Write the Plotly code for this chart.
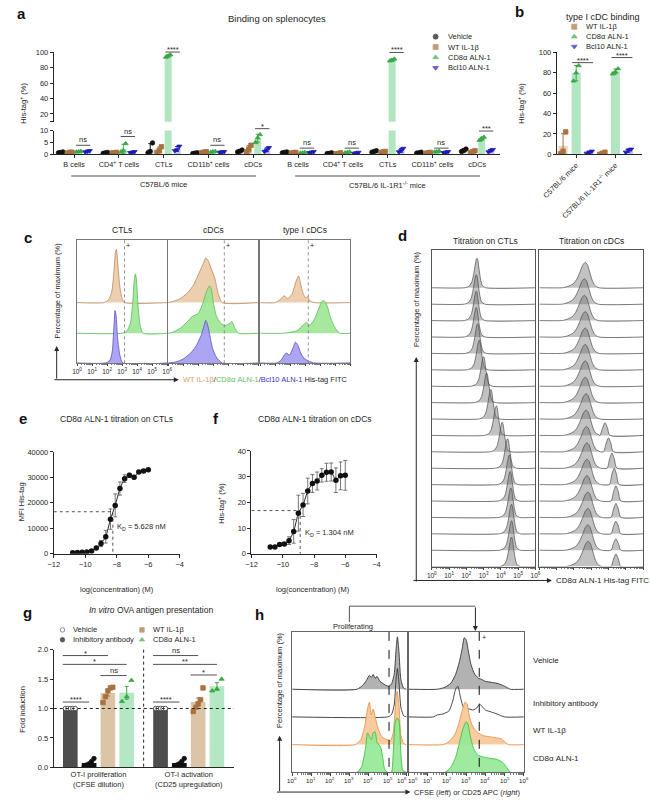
import math
import numpy as np
import plotly.graph_objects as go

W, H = 650, 802
FONT = "Liberation Sans, Arial, sans-serif"
INK = "#262626"

# ============================ DATA ============================
# ---- a: binding on splenocytes (His-tag+ %, 3 mice per bar) ----
a_groups = ["B cells", "CD4<sup>+</sup> T cells", "CTLs", "CD11b<sup>+</sup> cells", "cDCs",
            "B cells", "CD4<sup>+</sup> T cells", "CTLs", "CD11b<sup>+</sup> cells", "cDCs"]
a_strains = ["C57BL/6 mice", "C57BL/6 IL-1R1<sup>-/-</sup> mice"]
a_series = ["Vehicle", "WT IL-1β", "CD8α ALN-1", "Bcl10 ALN-1"]
a_vehicle = [[0.6, 0.8, 1.0], [0.4, 0.6, 0.8], [0.6, 1.2, 4.8], [0.3, 0.5, 0.6], [1.0, 1.3, 1.8],
             [0.6, 0.8, 1.0], [0.3, 0.4, 0.6], [0.9, 1.2, 1.5], [0.5, 0.6, 0.9], [1.2, 1.6, 2.2]]
a_wt = [[0.5, 0.8, 0.9], [0.5, 0.6, 0.8], [0.8, 1.6, 3.2], [0.7, 0.9, 1.1], [1.0, 2.2, 3.8],
        [0.5, 0.7, 0.8], [0.2, 0.3, 0.6], [0.8, 1.0, 1.2], [0.4, 0.6, 0.8], [0.8, 1.1, 1.5]]
a_cd8 = [[1.0, 1.1, 1.3], [1.0, 1.5, 4.5], [94.0, 95.5, 97.0], [0.9, 1.1, 1.2], [5.0, 7.0, 8.3],
         [0.5, 0.6, 0.8], [0.6, 0.8, 1.0], [89.0, 90.0, 91.5], [1.0, 1.1, 1.3], [5.9, 6.6, 7.2]]
a_bcl10 = [[1.0, 1.3, 1.5], [0.7, 0.9, 1.1], [1.5, 1.9, 3.4], [0.8, 1.0, 1.1], [1.2, 1.8, 2.8],
           [0.7, 0.9, 1.1], [0.4, 0.6, 0.8], [1.0, 1.5, 2.5], [0.7, 0.9, 1.1], [1.0, 1.6, 2.0]]
a_sig = ["ns", "ns", "****", "ns", "*", "ns", "ns", "****", "ns", "***"]
a_sig_level = [3.8, 7.5, 100.5, 3.8, 10.8, 2.6, 2.6, 100.0, 2.6, 9.8]

# ---- b: type I cDC binding ----
b_groups = ["C57BL/6 mice", "C57BL/6 IL-1R1<sup>-/-</sup> mice"]
b_series = ["WT IL-1β", "CD8α ALN-1", "Bcl10 ALN-1"]
b_wt = [[0.5, 3.0, 22.0], [0.0, 1.0, 2.0]]
b_cd8 = [[72.0, 80.0, 87.0], [79.0, 81.0, 84.0]]
b_bcl10 = [[1.0, 2.0, 3.0], [2.0, 4.0, 5.0]]
b_sig = ["****", "****"]
b_sig_level = [90, 95]

# ---- c: flow histograms (log10 fluorescence, height) ----
c_titles = ["CTLs", "cDCs", "type I cDCs"]
c_gate = [3.16, 3.74, 3.2]
c_ctl_wt = ([0, 1.8, 2.1, 2.3, 2.45, 2.55, 2.62, 2.7, 2.85, 3.0, 3.2, 6],
            [0, 0, 3, 10, 30, 50, 54, 42, 16, 4, 0, 0])
c_ctl_cd8 = ([0, 3.0, 3.3, 3.55, 3.7, 3.8, 3.88, 3.95, 4.05, 4.2, 4.4, 6],
             [0, 0, 2, 10, 30, 52, 60, 55, 30, 8, 0, 0])
c_ctl_bcl10 = ([0, 1.9, 2.2, 2.35, 2.45, 2.53, 2.6, 2.7, 2.85, 3.05, 6],
               [0, 0, 3, 12, 35, 53, 48, 25, 8, 0, 0])
c_cdc_wt = ([0, 0.3, 0.8, 1.3, 1.7, 2.0, 2.3, 2.5, 2.65, 2.85, 3.1, 3.35, 3.6, 6],
            [0, 1, 4, 10, 18, 28, 38, 45, 43, 35, 25, 8, 0, 0])
c_cdc_cd8 = ([0, 0.3, 0.8, 1.3, 1.6, 2.0, 2.3, 2.55, 2.75, 2.85, 3.0, 3.2, 3.5, 3.8, 4.1, 4.25, 4.45, 4.7, 6],
             [0, 1, 5, 12, 17, 20, 30, 42, 48, 46, 32, 18, 10, 8, 10, 12, 5, 0, 0])
c_cdc_bcl10 = ([0, 0.5, 1.0, 1.5, 1.9, 2.2, 2.4, 2.5, 2.6, 2.75, 2.95, 3.2, 3.6, 6],
               [0, 1, 4, 10, 18, 28, 38, 43, 40, 30, 15, 6, 0, 0])
c_t1_wt = ([0, 1.0, 1.4, 1.6, 1.8, 2.1, 2.35, 2.55, 2.65, 2.8, 3.0, 3.15, 3.3, 3.6, 6],
           [0, 0, 4, 7, 4, 8, 20, 27, 22, 12, 5, 6, 2, 0, 0])
c_t1_cd8 = ([0, 1.5, 2.0, 2.5, 2.9, 3.1, 3.3, 3.6, 3.9, 4.1, 4.25, 4.45, 4.7, 5.0, 5.3, 6],
            [0, 0, 1, 3, 9, 11, 8, 14, 25, 32, 33, 28, 15, 5, 0, 0])
c_t1_bcl10 = ([0, 1.1, 1.4, 1.6, 1.75, 1.95, 2.15, 2.35, 2.5, 2.7, 2.9, 3.2, 3.6, 6],
              [0, 0, 3, 8, 10, 8, 14, 21, 18, 10, 5, 2, 0, 0])

# ---- d: titration histograms (peak position per concentration row) ----
d_titles = ["Titration on CTLs", "Titration on cDCs"]
d_ctl_peak = [2.62, 2.58, 2.58, 2.58, 2.66, 2.75, 3.0, 3.18, 3.42, 3.74, 4.08, 4.39, 4.49, 4.54, 4.58, 4.62, 4.62, 4.62]
d_cdc_peak = [2.65, 2.6, 2.6, 2.65, 2.65, 2.65, 2.65, 2.65, 2.7, 2.7, 2.72, 2.75, 2.75, 2.75, 2.8, 2.8, 2.8, 2.82]
d_cdc_bump_pos = [0, 0, 0, 0, 0, 0, 0, 0, 0, 3.8, 4.0, 4.2, 4.33, 4.43, 4.43, 4.43, 4.43, 4.43]
d_cdc_bump_h = [0, 0, 0, 0, 0, 0, 0, 0, 0, 0.5, 0.55, 0.6, 0.65, 0.6, 0.55, 0.5, 0.45, 0.5]
d_ctl_shape_dx = [-0.7, -0.45, -0.3, -0.2, -0.1, -0.04, 0, 0.05, 0.1, 0.2, 0.3, 0.5]
d_ctl_shape_h = [0, 0.06, 0.2, 0.45, 0.8, 0.97, 1.0, 0.92, 0.7, 0.3, 0.08, 0]
d_cdc_shape_dx = [-1.3, -1.0, -0.7, -0.5, -0.3, -0.15, 0, 0.12, 0.25, 0.4, 0.55, 0.8]
d_cdc_shape_h = [0, 0.05, 0.15, 0.32, 0.62, 0.88, 1.0, 0.92, 0.65, 0.3, 0.1, 0]
d_bump_dx = [-0.28, -0.14, 0, 0.14, 0.28]
d_bump_h = [0, 0.6, 1.0, 0.6, 0]

# ---- e / f: titration curves ----
ef_logc = [-10.8, -10.5, -10.2, -9.9, -9.6, -9.3, -9.0, -8.7, -8.4, -8.1, -7.8, -7.5, -7.2, -6.9, -6.6, -6.3, -6.0]
e_mfi = [400, 450, 550, 700, 1100, 2300, 4000, 6700, 13600, 19000, 25600, 29500, 30800, 30100, 32100, 32500, 33000]
e_err = [150, 150, 150, 200, 300, 600, 1200, 2500, 4000, 4500, 2600, 1500, 800, 700, 500, 500, 500]
e_kd_nM = 5.628
e_half = 16500
f_pct = [2.6, 2.6, 3.6, 3.8, 5.1, 8.7, 15.8, 19.0, 24.4, 27.3, 28.3, 30.5, 31.7, 31.8, 28.6, 30.3, 30.5]
f_err = [0.4, 0.4, 0.4, 0.4, 1.5, 4.6, 7.0, 4.5, 5.0, 3.5, 3.5, 2.6, 3.5, 3.5, 4.8, 5.4, 5.8]
f_kd_nM = 1.304
f_half = 16.8

# ---- g: OVA antigen presentation (fold induction) ----
g_groups = ["OT-I proliferation<br>(CFSE dilution)", "OT-I activation<br>(CD25 upregulation)"]
g_series = ["Vehicle", "Inhibitory antibody", "WT IL-1β", "CD8α ALN-1"]
g_vehicle = [[1.0, 1.0, 1.0, 1.0, 1.0], [1.0, 1.0, 1.0, 1.0, 1.0]]
g_inhib = [[0.02, 0.04, 0.06, 0.1, 0.15], [0.02, 0.04, 0.06, 0.1, 0.15]]
g_wt = [[1.1, 1.2, 1.3, 1.35, 1.36], [0.95, 1.02, 1.08, 1.15, 1.35]]
g_cd8 = [[1.12, 1.2, 1.48], [1.3, 1.33, 1.5]]
g_sig_pairs = [(0, 1), (0, 2), (0, 3), (2, 3)]
g_sig = [["****", "*", "*", "ns"], ["****", "ns", "**", "*"]]
g_sig_level = [[1.11, 1.9, 1.75, 1.56], [1.11, 1.9, 1.75, 1.57]]

# ---- h: CFSE / CD25 histograms ----
h_rows = ["Vehicle", "Inhibitory antibody", "WT IL-1β", "CD8α ALN-1"]
h_gate = [5.08, 3.68]
h_cfse_vehicle = ([0, 3.4, 3.7, 3.9, 4.05, 4.15, 4.25, 4.35, 4.45, 4.6, 4.75, 4.9, 5.05, 5.2, 5.35, 5.45, 5.52, 5.6, 5.7, 5.85, 6],
                  [0, 0, 4, 9, 14, 12, 15, 11, 13, 8, 6, 4, 3, 5, 15, 40, 53, 38, 10, 1, 0])
h_cfse_inhib = ([0, 5.0, 5.2, 5.35, 5.45, 5.52, 5.6, 5.7, 5.85, 6],
                [0, 0, 2, 12, 38, 49, 35, 10, 1, 0])
h_cfse_wt = ([0, 3.3, 3.6, 3.8, 3.95, 4.05, 4.15, 4.25, 4.35, 4.45, 4.55, 4.7, 4.85, 5.0, 5.15, 5.3, 5.4, 5.5, 5.6, 5.7, 5.85, 6],
             [0, 0, 5, 18, 36, 43, 30, 36, 28, 20, 14, 8, 6, 5, 4, 12, 35, 54, 40, 10, 1, 0])
h_cfse_cd8 = ([0, 3.4, 3.65, 3.85, 3.95, 4.05, 4.15, 4.25, 4.35, 4.45, 4.55, 4.65, 4.75, 4.85, 5.0, 5.2, 5.3, 5.4, 5.5, 5.6, 5.7, 5.8, 6],
              [0, 0, 6, 25, 40, 36, 33, 40, 41, 30, 28, 25, 15, 3, 0, 0, 20, 50, 55, 52, 20, 2, 0])
h_cd25_vehicle = ([0, 1.5, 1.9, 2.2, 2.45, 2.65, 2.8, 2.9, 3.0, 3.1, 3.25, 3.45, 3.65, 3.8, 4.0, 4.3, 4.6, 4.9, 5.1, 5.3, 6],
                  [0, 0, 2, 6, 15, 28, 42, 52, 50, 40, 25, 15, 11, 10, 8, 7, 6, 4, 2, 0, 0])
h_cd25_inhib = ([0, 1.3, 1.5, 1.8, 2.1, 2.3, 2.45, 2.57, 2.7, 2.85, 3.0, 3.15, 3.35, 3.55, 3.7, 3.85, 4.0, 4.3, 4.6, 5.0, 6],
                [0, 0, 2, 3, 6, 16, 28, 31, 20, 10, 8, 8, 7, 9, 13, 10, 7, 5, 3, 0, 0])
h_cd25_wt = ([0, 1.8, 2.1, 2.4, 2.6, 2.8, 2.95, 3.05, 3.15, 3.3, 3.5, 3.7, 3.9, 4.2, 4.5, 4.8, 5.0, 5.2, 6],
             [0, 0, 3, 10, 20, 35, 43, 41, 30, 20, 14, 11, 9, 8, 7, 6, 3, 0, 0])
h_cd25_cd8 = ([0, 1.9, 2.2, 2.45, 2.65, 2.85, 3.0, 3.1, 3.2, 3.35, 3.5, 3.65, 3.8, 4.0, 4.3, 4.6, 4.9, 5.1, 5.3, 6],
              [0, 0, 5, 15, 30, 45, 51, 48, 38, 26, 20, 17, 16, 15, 14, 13, 10, 5, 0, 0])

# ============================ HELPERS ============================
layout = dict(width=W, height=H, autosize=False, margin=dict(l=0, r=0, t=0, b=0),
              paper_bgcolor="white", plot_bgcolor="rgba(0,0,0,0)", showlegend=False,
              barmode="overlay", font=dict(family=FONT, size=8, color=INK))
traces, shapes, annotations, overlay_pts = [], [], [], []
axinfo = {}
counter = [0]


def base_axis(**kw):
    d = dict(showgrid=False, zeroline=False, showline=True, linecolor=INK, linewidth=1,
             ticks="outside", ticklen=3, tickwidth=1, tickcolor=INK,
             tickfont=dict(size=7.5, color=INK, family=FONT), fixedrange=True)
    d.update(kw)
    return d


def make_axes(px0, px1, py0, py1, xr, yr, xkw=None, ykw=None):
    counter[0] += 1
    n = counter[0]
    s = "" if n == 1 else str(n)
    layout["xaxis" + s] = base_axis(domain=[px0 / W, px1 / W], range=xr, anchor="y" + s, **(xkw or {}))
    layout["yaxis" + s] = base_axis(domain=[1 - py1 / H, 1 - py0 / H], range=yr, anchor="x" + s, **(ykw or {}))
    axinfo["x" + s] = (px0, px1, xr)
    axinfo["y" + s] = (py0, py1, yr)
    return "x" + s, "y" + s


def extra_y(xname, py0, py1, yr, ykw=None):
    counter[0] += 1
    s = str(counter[0])
    layout["yaxis" + s] = base_axis(domain=[1 - py1 / H, 1 - py0 / H], range=yr, anchor=xname, **(ykw or {}))
    axinfo["y" + s] = (py0, py1, yr)
    return "y" + s


def X(ax, v):
    p0, p1, r = axinfo[ax]
    return p0 + (v - r[0]) / (r[1] - r[0]) * (p1 - p0)


def Y(ax, v):
    p0, p1, r = axinfo[ax]
    return p1 - (v - r[0]) / (r[1] - r[0]) * (p1 - p0)


def line(x0, y0, x1, y1, color=INK, width=1, dash="solid"):
    shapes.append(dict(type="line", xref="paper", yref="paper", x0=x0 / W, y0=1 - y0 / H,
                       x1=x1 / W, y1=1 - y1 / H, line=dict(color=color, width=width, dash=dash)))


def text(x, y, s, size=8, color=INK, xanchor="center", yanchor="middle", angle=0):
    annotations.append(dict(x=x / W, y=1 - y / H, xref="paper", yref="paper", text=s, showarrow=False,
                            font=dict(size=size, color=color, family=FONT), xanchor=xanchor,
                            yanchor=yanchor, textangle=angle, borderpad=0))


def arrow(x0, y0, x1, y1):
    annotations.append(dict(x=x1 / W, y=1 - y1 / H, xref="paper", yref="paper", ax=x0 - x1, ay=y0 - y1,
                            axref="pixel", ayref="pixel", text="", showarrow=True, arrowhead=2,
                            arrowsize=1, arrowwidth=1, arrowcolor=INK, standoff=0))


def panel_letter(x, y, s):
    text(x, y, "<b>" + s + "</b>", size=15, color="#111")


def sig_text(xc, py, s):
    if s == "ns":
        text(xc, py - 5.5, s, size=7.5)
    else:
        text(xc, py - 2.5, s, size=7.5)


def legend_marker(x, y, symbol, color, fill=None, size=5):
    overlay_pts.append((x, y, symbol, color, fill or color, size))


JIT = {3: [-0.25, 0, 0.25], 5: [-0.26, -0.13, 0, 0.13, 0.26]}


def add_points(xax, yax, centers, values, color, symbol, size=4.5, fill=None, jit_scale=1.0):
    xs, ys = [], []
    for c, vals in zip(centers, values):
        for o, v in zip(JIT[len(vals)], vals):
            xs.append(c + o * jit_scale)
            ys.append(v)
    if not xs:
        return
    traces.append(go.Scatter(x=xs, y=ys, xaxis=xax, yaxis=yax, mode="markers", hoverinfo="skip",
                             marker=dict(symbol=symbol, size=size, color=fill or color,
                                         line=dict(color=color, width=0.8))))


def add_err(xax, yax, centers, values, color, kind="sd"):
    if not centers:
        return
    m = [float(np.mean(v)) for v in values]
    e = []
    for v in values:
        sd = float(np.std(v, ddof=1))
        e.append(sd / math.sqrt(len(v)) if kind == "sem" else sd)
    traces.append(go.Scatter(x=centers, y=m, xaxis=xax, yaxis=yax, mode="markers", hoverinfo="skip",
                             marker=dict(size=1, color="rgba(0,0,0,0)"),
                             error_y=dict(type="data", array=e, color=color, thickness=1, width=2)))


def hist(xax, yax, curve, base, fillcol, linecol, fill=True, lw=0.8):
    xs, hs = curve
    traces.append(go.Scatter(x=list(xs), y=[base + h for h in hs], xaxis=xax, yaxis=yax, mode="lines",
                             hoverinfo="skip", line=dict(color=linecol, width=lw, shape="spline", smoothing=0.6),
                             fill="toself" if fill else None, fillcolor=fillcol if fill else None))


MINOR = [k + math.log10(m) for k in range(6) for m in range(2, 10)]
DECADES = ["10<sup>%d</sup>" % k for k in range(7)]


def hist_axes(px0, px1, py0, py1, yr, labels, line_col="#777777"):
    xkw = dict(tickvals=list(range(7)), ticktext=DECADES,
               showticklabels=labels, mirror=True, linecolor=line_col, ticklen=2.5, tickcolor="#444",
               tickfont=dict(size=6.5, color=INK, family=FONT),
               minor=dict(tickvals=MINOR, ticklen=1.5, tickcolor="#444", ticks="outside", tickwidth=0.7))
    ykw = dict(showticklabels=False, ticks="", mirror=True, linecolor=line_col)
    return make_axes(px0, px1, py0, py1, [0, 6], yr, xkw, ykw)


# ============================ PANEL a ============================
xa, ya = make_axes(40, 500, 128, 152, [-2.27, 47.5], [0, 10],
                   xkw=dict(tickvals=[5 * i for i in range(10)], ticktext=a_groups, tickfont=dict(size=7.3, color=INK)),
                   ykw=dict(tickvals=[0, 5, 10]))
ya2 = extra_y(xa, 49, 119, [10, 100], dict(tickvals=[10, 20, 40, 60, 80, 100],
                                            ticktext=["", "20", "40", "60", "80", "100"]))
a_data = [a_vehicle, a_wt, a_cd8, a_bcl10]
a_col = ["#111111", "#a9713f", "#3aa845", "#1d1db5"]
a_barcol = ["#d9d9d9", "#ead4bd", "#b2e6c1", "#c4c4f3"]
a_sym = ["circle", "square", "triangle-up", "triangle-down"]
for s in range(4):
    centers = [5 * g - 1.5 + s for g in range(10)]
    means = [float(np.mean(v)) for v in a_data[s]]
    for yy in (ya, ya2):
        traces.append(go.Bar(x=centers, y=means, width=0.78, xaxis=xa, yaxis=yy, hoverinfo="skip",
                             marker=dict(color=a_barcol[s], line=dict(width=0))))
for s in range(4):
    centers = [5 * g - 1.5 + s for g in range(10)]
    low = [i for i in range(10) if np.mean(a_data[s][i]) < 10]
    high = [i for i in range(10) if np.mean(a_data[s][i]) >= 10]
    for yy, idx in ((ya, low), (ya2, high)):
        cc = [centers[i] for i in idx]
        vv = [a_data[s][i] for i in idx]
        add_err(xa, yy, cc, vv, a_col[s], "sd")
        add_points(xa, yy, cc, vv, a_col[s], a_sym[s], size=4.5)
for g in range(10):
    lvl = a_sig_level[g]
    yax = ya2 if lvl > 50 else ya
    py = Y(yax, lvl)
    x0, x1 = X(xa, 5 * g + 0.2), X(xa, 5 * g + 1.8)
    line(x0, py, x1, py, width=0.8)
    sig_text((x0 + x1) / 2, py, a_sig[g])
for k in range(2):
    x0, x1 = X(xa, 25 * k), X(xa, 25 * k + 20)
    line(x0 - 3, 174, x1 + 3, 174, color="#8a8a8a", width=1.5)
    text((x0 + x1) / 2, 183, a_strains[k], size=7.5)
panel_letter(7, 10, "a")
text(270, 15, "Binding on splenocytes", size=9.5)
text(8, 100, "His-tag<sup>+</sup> (%)", size=7.5, angle=-90)
for s in range(4):
    yy = [33, 43.5, 54, 64.5][s]
    legend_marker(434, yy, a_sym[s], a_col[s])
    text(446, yy, a_series[s], size=7.5, xanchor="left")

# ============================ PANEL b ============================
xb, yb = make_axes(559, 647, 49, 152, [-1.48, 5.04], [0, 100],
                   xkw=dict(tickvals=[0, 3], ticktext=b_groups, tickangle=-45, tickfont=dict(size=7.3, color=INK)),
                   ykw=dict(tickvals=[0, 20, 40, 60, 80, 100]))
b_data = [b_wt, b_cd8, b_bcl10]
b_col = a_col[1:]
b_barcol = a_barcol[1:]
b_sym = a_sym[1:]
for s in range(3):
    centers = [3 * g - 1 + s for g in range(2)]
    means = [float(np.mean(v)) for v in b_data[s]]
    traces.append(go.Bar(x=centers, y=means, width=0.7, xaxis=xb, yaxis=yb, hoverinfo="skip",
                         marker=dict(color=b_barcol[s], line=dict(width=0))))
for s in range(3):
    centers = [3 * g - 1 + s for g in range(2)]
    add_err(xb, yb, centers, b_data[s], b_col[s], "sd")
    add_points(xb, yb, centers, b_data[s], b_col[s], b_sym[s], size=4.5, jit_scale=0.8)
for g in range(2):
    py = Y(yb, b_sig_level[g])
    x0, x1 = X(xb, 3 * g - 0.3), X(xb, 3 * g + 1.3)
    line(x0, py, x1, py, width=0.8)
    sig_text((x0 + x1) / 2, py, b_sig[g])
panel_letter(520, 8, "b")
text(607, 13, "type I cDC binding", size=9)
text(522, 100, "His-tag<sup>+</sup> (%)", size=7.5, angle=-90)
for s in range(3):
    yy = [23, 33, 43][s]
    legend_marker(577, yy, b_sym[s], b_col[s])
    text(588, yy, b_series[s], size=7.5, xanchor="left")

# ============================ PANEL c ============================
c_boxes = [(64, 157), (158, 251), (253, 346)]
c_curves = [(c_ctl_wt, c_ctl_cd8, c_ctl_bcl10), (c_cdc_wt, c_cdc_cd8, c_cdc_bcl10), (c_t1_wt, c_t1_cd8, c_t1_bcl10)]
c_base = [61, 30, 0]
c_fill = ["rgba(236,204,172,0.95)", "rgba(150,228,140,0.85)", "rgba(160,152,242,0.88)"]
c_line = ["#b9895e", "#58bb58", "#5a50c8"]
for i, (p0, p1) in enumerate(c_boxes):
    xc, yc = hist_axes(p0, p1, 239, 363, [0, 124], labels=(i == 0))
    for r in range(3):
        hist(xc, yc, c_curves[i][r], c_base[r], c_fill[r], c_line[r])
    gx = X(xc, c_gate[i])
    line(gx, 239, gx, 363, color="#777", width=0.8, dash="dot")
    text(gx + 4, 244, "+", size=7)
    text((p0 + p1) / 2, 229, c_titles[i], size=8.5)
panel_letter(13, 236, "c")
text(44, 290, "Percentage of maximum (%)", size=7.5, angle=-90)
arrow(43, 380, 43, 346)
arrow(43, 380, 169, 380)
text(172, 380, "<span style='color:#d7a06c'>WT IL-1β</span>/<span style='color:#5fc25f'>CD8α ALN-1</span>/"
               "<span style='color:#3a36c8'>Bcl10 ALN-1</span> His-tag FITC", size=7.5, xanchor="left")

# ============================ PANEL d ============================
nrows = len(d_ctl_peak)
xd1, yd1 = hist_axes(430, 537, 249, 569, [0, 19.29], labels=True, line_col="#555")
xd2, yd2 = hist_axes(541, 648, 249, 569, [0, 19.29], labels=False, line_col="#555")
d_fill = "rgba(110,110,110,0.42)"
for k in range(nrows):
    base = (nrows - 1) - k
    xs = [0] + [d_ctl_peak[k] + dx for dx in d_ctl_shape_dx] + [6]
    hs = [0] + [1.8 * h for h in d_ctl_shape_h] + [0]
    hist(xd1, yd1, (xs, hs), base, d_fill, "#4a4a4a", lw=0.7)
    xs = [0] + [d_cdc_peak[k] + dx for dx in d_cdc_shape_dx]
    hs = [0] + [1.55 * h for h in d_cdc_shape_h]
    if d_cdc_bump_h[k] > 0:
        xs += [d_cdc_bump_pos[k] + dx for dx in d_bump_dx]
        hs += [1.55 * d_cdc_bump_h[k] * h for h in d_bump_h]
    xs += [6]
    hs += [0]
    hist(xd2, yd2, (xs, hs), base, d_fill, "#4a4a4a", lw=0.7)
panel_letter(400, 234, "d")
text(485, 240, d_titles[0], size=8.5)
text(595, 240, d_titles[1], size=8.5)
text(414, 298, "Percentage of maximum (%)", size=7.5, angle=-90)
arrow(414, 583, 414, 357)
arrow(414, 583, 554, 583)
text(557, 583, "CD8α ALN-1 His-tag FITC", size=8, xanchor="left")

# ============================ PANEL e / f ============================
def titration(xax, yax, ys, errs, kd_nM, half):
    traces.append(go.Scatter(x=ef_logc, y=ys, xaxis=xax, yaxis=yax, mode="lines", hoverinfo="skip",
                             line=dict(color=INK, width=1, shape="spline", smoothing=0.5)))
    traces.append(go.Scatter(x=ef_logc, y=ys, xaxis=xax, yaxis=yax, mode="markers", hoverinfo="skip",
                             marker=dict(size=5.5, color="#111"),
                             error_y=dict(type="data", array=errs, color="#555", thickness=0.8, width=2)))
    lk = math.log10(kd_nM * 1e-9)
    traces.append(go.Scatter(x=[-12, lk, lk], y=[half, half, 0], xaxis=xax, yaxis=yax, mode="lines",
                             hoverinfo="skip", line=dict(color=INK, width=0.8, dash="dot")))
    return lk


xe, ye = make_axes(40, 170, 453, 556, [-12, -4], [0, 40000],
                   xkw=dict(tickvals=[-12, -10, -8, -6, -4]),
                   ykw=dict(tickvals=[0, 10000, 20000, 30000, 40000], tickformat="d"))
lk = titration(xe, ye, e_mfi, e_err, e_kd_nM, e_half)
text(X(xe, lk) + 3, Y(ye, 10500), "K<sub>D</sub> = %.3f nM" % e_kd_nM, size=7.5, xanchor="left")
panel_letter(8, 419, "e")
text(105, 420, "CD8α ALN-1 titration on CTLs", size=8.5)
text(7, 503, "MFI His-tag", size=7.5, angle=-90)
text(105, 592, "log(concentration) (M)", size=7.5)

xf, yf = make_axes(244, 373, 452, 556, [-12, -4], [0, 40],
                   xkw=dict(tickvals=[-12, -10, -8, -6, -4]),
                   ykw=dict(tickvals=[0, 10, 20, 30, 40]))
lk = titration(xf, yf, f_pct, f_err, f_kd_nM, f_half)
text(X(xf, lk) + 4, Y(yf, 8.0), "K<sub>D</sub> = %.3f nM" % f_kd_nM, size=7.5, xanchor="left")
panel_letter(207, 419, "f")
text(310, 420, "CD8α ALN-1 titration on cDCs", size=8.5)
text(213, 505, "His-tag<sup>+</sup> (%)", size=7.5, angle=-90)
text(307, 592, "log(concentration) (M)", size=7.5)

# ============================ PANEL g ============================
g_pos = [0, 4.8]
xg, yg = make_axes(40, 226, 653, 772, [-0.88, 8.71], [0, 2.0],
                   xkw=dict(tickvals=[g_pos[0] + 1.5, g_pos[1] + 1.5], ticktext=g_groups, ticks=""),
                   ykw=dict(tickvals=[0, 0.5, 1.0, 1.5, 2.0], tickformat=".1f"))
g_data = [g_vehicle, g_inhib, g_wt, g_cd8]
g_col = ["#333333", "#111111", "#a9713f", "#3aa845"]
g_barcol = ["#4d4d4d", "#111111", "#dcc4a6", "#b4e8c4"]
g_sym = ["circle", "circle", "square", "triangle-up"]
g_fillc = ["white", "#111111", "#a9713f", "#3aa845"]
for s in range(4):
    centers = [g_pos[g] + s for g in range(2)]
    means = [float(np.mean(v)) for v in g_data[s]]
    traces.append(go.Bar(x=centers, y=means, width=0.78, xaxis=xg, yaxis=yg, hoverinfo="skip",
                         marker=dict(color=g_barcol[s], line=dict(width=0))))
for s in range(4):
    centers = [g_pos[g] + s for g in range(2)]
    if s >= 2:
        add_err(xg, yg, centers, g_data[s], g_col[s], "sem")
    add_points(xg, yg, centers, g_data[s], g_col[s], g_sym[s], size=4.5, fill=g_fillc[s])
line(X(xg, -0.88), Y(yg, 1.0), X(xg, 8.71), Y(yg, 1.0), color=INK, width=1, dash="dot")
line(X(xg, 3.9), 653, X(xg, 3.9), 772, color=INK, width=1, dash="dot")
for gi in range(2):
    for k, (a, b) in enumerate(g_sig_pairs):
        py = Y(yg, g_sig_level[gi][k])
        x0, x1 = X(xg, g_pos[gi] + a - 0.4), X(xg, g_pos[gi] + b)
        line(x0, py, x1, py, width=0.8)
        sig_text((x0 + x1) / 2, py, g_sig[gi][k])
panel_letter(13, 615, "g")
text(140, 613, "<i>In vitro</i> OVA antigen presentation", size=8.5)
text(8, 713, "Fold induction", size=7.5, angle=-90)
g_leg = [(49, 633), (49, 643), (131, 633), (131, 643)]
for s in range(4):
    legend_marker(g_leg[s][0], g_leg[s][1], g_sym[s], g_col[s], fill=g_fillc[s], size=4.5)
    text(g_leg[s][0] + 10, g_leg[s][1], g_series[s], size=7.5, xanchor="left")

# ============================ PANEL h ============================
h_base = [84, 56, 28, 0]
h_fill = ["rgba(178,178,178,1)", None, "rgba(248,200,155,0.95)", "rgba(150,232,150,0.92)"]
h_line = ["#333333", "#333333", "#e8944a", "#3cc43c"]
h_curves = [(h_cfse_vehicle, h_cfse_inhib, h_cfse_wt, h_cfse_cd8),
            (h_cd25_vehicle, h_cd25_inhib, h_cd25_wt, h_cd25_cd8)]
h_boxes = [(286, 404), (406, 525)]
for i, (p0, p1) in enumerate(h_boxes):
    xh, yh = hist_axes(p0, p1, 635, 777, [0, 142], labels=False, line_col="#666")
    for r in range(4):
        hist(xh, yh, h_curves[i][r], h_base[r], h_fill[r], h_line[r], fill=h_fill[r] is not None, lw=0.9)
    gx = X(xh, h_gate[i])
    line(gx, 635, gx, 777, color="#111", width=1, dash="dash")
    if i == 1:
        text(gx + 5, 641, "+", size=7)
    # decade labels (nudged apart where the two boxes meet)
    for k in range(7):
        nudge = -5 if (i == 0 and k == 6) else (5 if (i == 1 and k == 0) else 0)
        text(X(xh, k) + nudge, 785, DECADES[k], size=6.2)
for r in range(4):
    text(533, [664, 707, 735, 763][r], h_rows[r], size=8, xanchor="left")
panel_letter(252, 617, "h")
line(345, 625, 345, 609, width=0.8)
line(345, 609, 475, 609, width=0.8)
arrow(475, 609, 475, 634)
text(349, 630, "Proliferating", size=7.5)
text(273, 684, "Percentage of maximum (%)", size=7.5, angle=-90)
arrow(273, 797, 273, 740)
arrow(273, 797, 408, 797)
text(411, 797, "CFSE (<i>left</i>) or CD25 APC (<i>right</i>)", size=7.5, xanchor="left")

# ============================ OVERLAY (legend swatches) ============================
xo, yo = make_axes(0, W, 0, H, [0, W], [H, 0], xkw=dict(visible=False), ykw=dict(visible=False))
traces.append(go.Scatter(x=[p[0] for p in overlay_pts], y=[p[1] for p in overlay_pts], xaxis=xo, yaxis=yo,
                         mode="markers", hoverinfo="skip",
                         marker=dict(symbol=[p[2] for p in overlay_pts], size=[p[5] for p in overlay_pts],
                                     color=[p[4] for p in overlay_pts],
                                     line=dict(color=[p[3] for p in overlay_pts], width=0.8))))

fig = go.Figure(data=traces, layout=layout)
fig.update_layout(shapes=shapes, annotations=annotations)
fig.write_html("out.html", include_plotlyjs=True, config={"displayModeBar": False, "staticPlot": True})
